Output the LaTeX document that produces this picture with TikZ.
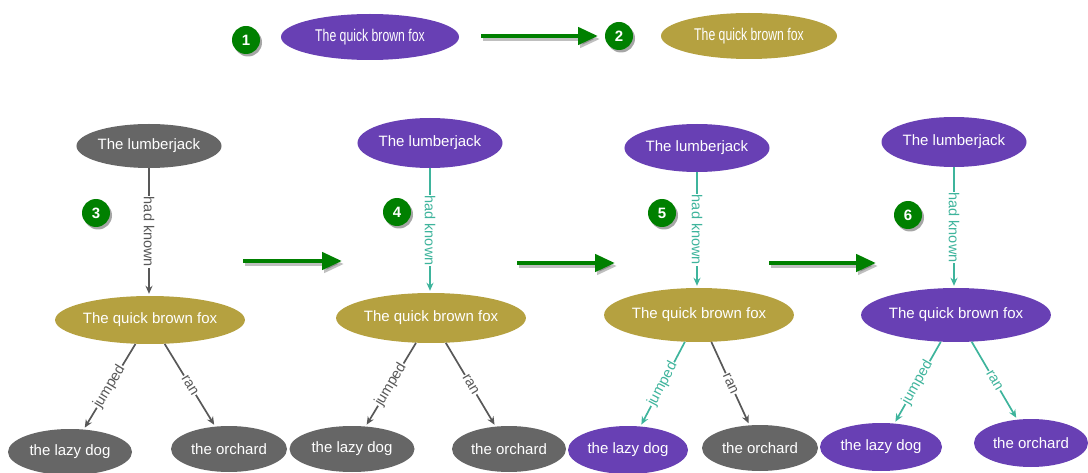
\documentclass[tikz,border=0pt]{standalone}
\usepackage{fontspec}
\setmainfont{Liberation Sans}
\usetikzlibrary{shapes.geometric,arrows.meta,shadows}

\definecolor{kpurple}{RGB}{104,64,180}
\definecolor{kolive}{RGB}{181,161,64}
\definecolor{kgray}{RGB}{102,102,102}
\definecolor{kedge}{RGB}{88,88,88}
\definecolor{kteal}{RGB}{62,180,156}
\definecolor{kgreen}{RGB}{0,128,0}

\tikzset{
  bub/.style={ellipse, inner sep=0pt, text=white, font=\fontsize{15}{18}\selectfont},
  pnode/.style={bub, fill=kpurple},
  onode/.style={bub, fill=kolive},
  gnode/.style={bub, fill=kgray},
  sz/.style 2 args={minimum width=#1pt, minimum height=#2pt},
  badge/.style={circle, fill=kgreen, text=white, minimum size=28pt, inner sep=0pt,
    font=\fontsize{15}{17}\selectfont\bfseries,
    drop shadow={shadow xshift=2pt, shadow yshift=-2.5pt, fill=black, opacity=0.35}},
  rel/.style={line width=1.7pt, -{Stealth[length=8pt,width=7pt]}, shorten >=2pt},
  grel/.style={rel, draw=kedge},
  trel/.style={rel, draw=kteal},
  lbl/.style={fill=white, inner sep=0.8pt, font=\fontsize{14.5}{16}\selectfont},
  glbl/.style={lbl, text=kedge},
  tlbl/.style={lbl, text=kteal},
  stage/.style={line width=4.5pt, draw=kgreen, -{Triangle[length=20pt,width=17pt]}},
  stageshadow/.style={line width=4.5pt, draw=black, opacity=0.25, -{Triangle[length=20pt,width=17pt]}},
}
\newcommand{\toptext}[1]{\scalebox{0.72}[1]{\fontsize{17}{20}\selectfont #1}}

\begin{document}
\begin{tikzpicture}[x=1pt,y=-1pt]
\useasboundingbox (0,0) rectangle (1088,473);

% ---- top row: colour change of a single node ----
\node[badge] (b1) at (246,40) {1};
\node[pnode, sz={178}{46}] (tf1) at (370,37) {\toptext{The quick brown fox}};
\node[badge] (b2) at (619,36) {2};
\node[onode, sz={176}{46}] (tf2) at (749,36) {\toptext{The quick brown fox}};
\coordinate (a1s) at (481,36);
\coordinate (a1e) at (598,36);

% ---- stage 3 ----
\node[badge] (b3) at (96,213) {3};
\node[gnode, sz={145}{44}] (lj3) at (149,146) {The lumberjack};
\node[onode, sz={177}{48}] (fox3) at (150,320) {The quick brown fox};
\node[gnode, sz={124}{46}] (dog3) at (70,452) {the lazy dog};
\node[gnode, sz={116}{46}] (orc3) at (229,449) {the orchard};
\draw[grel] (lj3) -- (lj3 |- fox3.north) node[midway, glbl, rotate=-90] {had known};
\draw[grel] (fox3) -- (dog3) node[midway, glbl, sloped] {jumped};
\draw[grel] (fox3) -- (orc3) node[midway, glbl, sloped] {ran};

% ---- stage 4 ----
\node[badge] (b4) at (397,212) {4};
\node[pnode, sz={145}{50}] (lj4) at (430,143) {The lumberjack};
\node[onode, sz={177}{50}] (fox4) at (431,318) {The quick brown fox};
\node[gnode, sz={125}{46}] (dog4) at (352,449) {the lazy dog};
\node[gnode, sz={114}{46}] (orc4) at (509,449) {the orchard};
\draw[trel] (lj4) -- (lj4 |- fox4.north) node[midway, tlbl, rotate=-90] {had known};
\draw[grel] (fox4) -- (dog4) node[midway, glbl, sloped] {jumped};
\draw[grel] (fox4) -- (orc4) node[midway, glbl, sloped] {ran};

% ---- stage 5 ----
\node[badge] (b5) at (662,213) {5};
\node[pnode, sz={145}{48}] (lj5) at (697,148) {The lumberjack};
\node[onode, sz={176}{54}] (fox5) at (699,315) {The quick brown fox};
\node[pnode, sz={120}{48}] (dog5) at (628,450) {the lazy dog};
\node[gnode, sz={116}{46}] (orc5) at (760,448) {the orchard};
\draw[trel] (lj5) -- (lj5 |- fox5.north) node[midway, tlbl, rotate=-90] {had known};
\draw[trel] (fox5) -- (dog5) node[midway, tlbl, sloped] {jumped};
\draw[grel] (fox5) -- (orc5) node[midway, glbl, sloped] {ran};

% ---- stage 6 ----
\node[badge] (b6) at (908,215) {6};
\node[pnode, sz={145}{50}] (lj6) at (954,142) {The lumberjack};
\node[pnode, sz={176}{54}] (fox6) at (956,315) {The quick brown fox};
\node[pnode, sz={122}{48}] (dog6) at (881,447) {the lazy dog};
\node[pnode, sz={114}{48}] (orc6) at (1031,443) {the orchard};
\draw[trel] (lj6) -- (lj6 |- fox6.north) node[midway, tlbl, rotate=-90] {had known};
\draw[trel] (fox6) -- (dog6) node[midway, tlbl, sloped] {jumped};
\draw[trel] (fox6) -- (orc6) node[midway, tlbl, sloped] {ran};

% ---- green stage arrows ----
\coordinate (a2s) at (243,261);
\coordinate (a2e) at (342,261);
\coordinate (a3s) at (517,263);
\coordinate (a3e) at (615,263);
\coordinate (a4s) at (769,263);
\coordinate (a4e) at (876,263);
\foreach \s/\e in {a1s/a1e, a2s/a2e, a3s/a3e, a4s/a4e}{
  \draw[stageshadow, transform canvas={xshift=2pt, yshift=-3pt}] (\s) -- (\e);
  \draw[stage] (\s) -- (\e);
}
\end{tikzpicture}
\end{document}
